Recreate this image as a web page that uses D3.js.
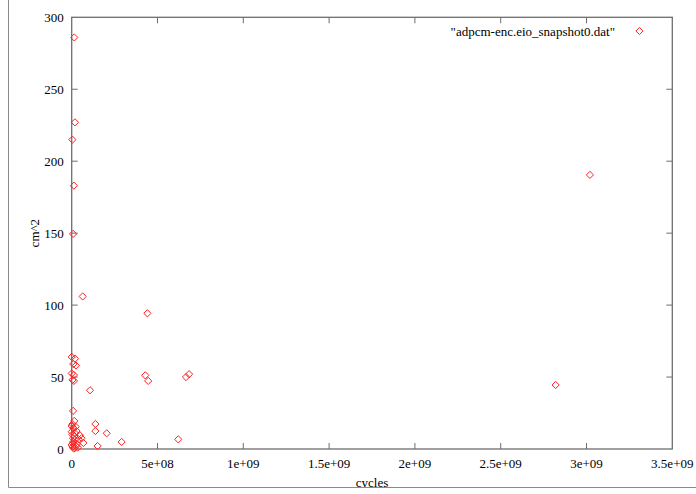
<!DOCTYPE html>
<html>
<head>
<meta charset="utf-8">
<script src="https://cdn.jsdelivr.net/npm/d3@7"></script>
<style>
  html, body { margin: 0; padding: 0; background: #fff; }
  svg { display: block; }
  text { font-family: "Liberation Serif", "DejaVu Serif", serif; font-size: 13px; fill: #000; }
</style>
</head>
<body>
<svg id="chart" width="696" height="494"></svg>
<script>
// Area (cm^2) against simulated cycles for each sampled design point
const seriesName = '"adpcm-enc.eio_snapshot0.dat"';
const cycles = [
  1.5e7, 1.9e7, 4e6, 1.3e7, 8e6, 6.4e7, 4.41e8, 4.29e8, 4.46e8, 1.07e8,
  6.66e8, 6.84e8, 6.21e8, 2.91e8, 2.04e8, 1.38e8, 1.38e8, 1.51e8, 2.82e9, 3.02e9,
  0, 1.9e7, 9e6, 2.5e7, 0, 1.3e7, 5e6, 1.3e7, 8e6, 1.5e7,
  4e6, 2.3e7, 1e7, 0, 2e7, 4.8e7, 5.8e7, 1.9e7, 4.1e7, 6.8e7,
  0, 1.9e7, 8e6, 1e7, 3e7, 5e6, 2.5e7, 1.2e7, 3.5e7, 4e6,
  2.8e7, 1.6e7, 0, 6e6
];
const area = [
  286, 227, 215, 183, 149.5, 106, 94.3, 51.2, 47.3, 40.8,
  50, 52, 6.7, 4.9, 10.9, 17.4, 12.5, 2.1, 44.5, 190.5,
  64, 62.8, 59, 58, 52.5, 51.4, 48, 47.3, 26.5, 19.5,
  17.2, 15.5, 14.5, 12, 10.9, 9.5, 7.5, 6.3, 6.7, 4.2,
  2.8, 0.8, 7.5, 5, 3.5, 1.5, 2, 0.3, 1, 10,
  12.5, 9, 16, 4
];
const xTicks = [0, 5e8, 1e9, 1.5e9, 2e9, 2.5e9, 3e9, 3.5e9];
const xTickLabels = ["0", "5e+08", "1e+09", "1.5e+09", "2e+09", "2.5e+09", "3e+09", "3.5e+09"];
const yTicks = [0, 50, 100, 150, 200, 250, 300];
const xTitle = "cycles";
const yTitle = "cm^2";

const svg = d3.select("#chart");
const plotL = 71.7, plotR = 672.3, plotT = 17.3, plotB = 449;
const axisColor = "#6e6e6e";
const red = "#ff2020";

const x = d3.scaleLinear().domain([0, 3.5e9]).range([plotL, plotR]);
const y = d3.scaleLinear().domain([0, 300]).range([plotB, plotT]);
const tickLen = 6;

// Tick marks on all four sides, pointing inward
const g = svg.append("g");
xTicks.forEach(v => {
  const px = x(v);
  if (v > 0 && v < 3.5e9) {
    g.append("line").attr("x1", px).attr("x2", px).attr("y1", plotB).attr("y2", plotB - tickLen)
      .attr("stroke", axisColor).attr("stroke-width", 1);
    g.append("line").attr("x1", px).attr("x2", px).attr("y1", plotT).attr("y2", plotT + tickLen)
      .attr("stroke", axisColor).attr("stroke-width", 1);
  }
});
yTicks.forEach(v => {
  const py = y(v);
  if (v > 0 && v < 300) {
    g.append("line").attr("x1", plotL).attr("x2", plotL + tickLen).attr("y1", py).attr("y2", py)
      .attr("stroke", axisColor).attr("stroke-width", 1);
    g.append("line").attr("x1", plotR).attr("x2", plotR - tickLen).attr("y1", py).attr("y2", py)
      .attr("stroke", axisColor).attr("stroke-width", 1);
  }
});

// Tick labels
g.selectAll("text.xt").data(xTicks).enter().append("text")
  .attr("x", d => x(d)).attr("y", plotB + 19)
  .attr("text-anchor", "middle")
  .text((d, i) => xTickLabels[i]);
g.selectAll("text.yt").data(yTicks).enter().append("text")
  .attr("x", plotL - 8).attr("y", d => y(d) + 4.5)
  .attr("text-anchor", "end")
  .text(d => d);

// Plot border
svg.append("rect")
  .attr("x", plotL).attr("y", plotT)
  .attr("width", plotR - plotL).attr("height", plotB - plotT)
  .attr("fill", "none").attr("stroke", axisColor).attr("stroke-width", 1.3);

// Axis titles
svg.append("text")
  .attr("transform", `translate(39,${(plotT + plotB) / 2}) rotate(-90)`)
  .attr("text-anchor", "middle")
  .text(yTitle);
svg.append("text")
  .attr("x", (plotL + plotR) / 2).attr("y", 487)
  .attr("text-anchor", "middle")
  .text(xTitle);

// Diamond markers
const diamond = (cx, cy, r) => `M${cx},${cy - r}L${cx + r},${cy}L${cx},${cy + r}L${cx - r},${cy}Z`;
const pts = cycles.map((c, i) => ({ c, a: area[i] }));
svg.append("g").selectAll("path").data(pts).enter().append("path")
  .attr("d", d => diamond(x(d.c), y(d.a), 3.6))
  .attr("fill", "none").attr("stroke", red).attr("stroke-width", 1);

// Legend
svg.append("text")
  .attr("x", 615).attr("y", 35.5)
  .attr("text-anchor", "end")
  .text(seriesName);
svg.append("path")
  .attr("d", diamond(639.5, 31, 3.6))
  .attr("fill", "none").attr("stroke", red).attr("stroke-width", 1);

// Outer frame (left and bottom edges); the strip below the frame stays blank
svg.append("rect").attr("x", 0).attr("y", 488).attr("width", 696).attr("height", 6).attr("fill", "#fff");
svg.append("line").attr("x1", 8.5).attr("x2", 8.5).attr("y1", 0).attr("y2", 487.5)
  .attr("stroke", "#8a8a8a").attr("stroke-width", 1);
svg.append("line").attr("x1", 8.5).attr("x2", 696).attr("y1", 487.5).attr("y2", 487.5)
  .attr("stroke", "#8a8a8a").attr("stroke-width", 1);
</script>
</body>
</html>
